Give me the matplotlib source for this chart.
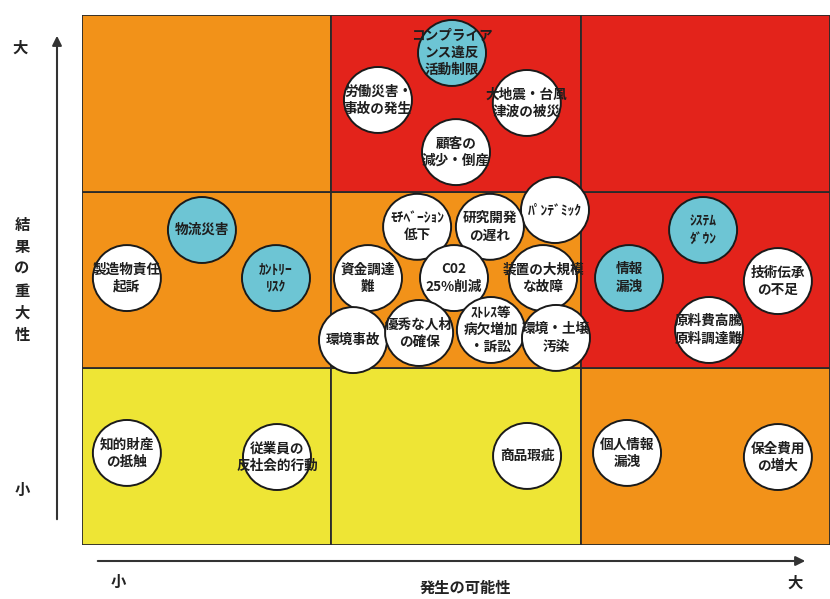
import matplotlib
matplotlib.use("Agg")
import matplotlib.pyplot as plt
from matplotlib.patches import Rectangle, Ellipse

plt.rcParams['font.family'] = ['Noto Sans CJK JP', 'DejaVu Sans']

# Zone colours (row 0 = low severity, col 0 = low likelihood)
ORANGE, RED, YELLOW, BLUE = '#F29219', '#E3231B', '#EEE535', '#6DC5D4'
zone_colors = [
    [YELLOW, YELLOW, ORANGE],
    [ORANGE, ORANGE, RED],
    [ORANGE, RED, RED],
]

# Risk items: label, likelihood (x), severity (y), highlighted
labels = [
    "コンプライア\nンス違反\n活動制限", "労働災害・\n事故の発生", "大地震・台風\n津波の被災", "顧客の\n減少・倒産",
    "ﾊﾟﾝﾃﾞﾐｯｸ", "ﾓﾁﾍﾞｰｼｮﾝ\n低下", "研究開発\nの遅れ", "資金調達\n難",
    "C02\n25%削減", "装置の大規模\nな故障", "環境事故", "優秀な人材\nの確保",
    "ｽﾄﾚｽ等\n病欠増加\n・訴訟", "環境・土壌\n汚染", "物流災害", "製造物責任\n起訴",
    "ｶﾝﾄﾘｰ\nﾘｽｸ", "ｼｽﾃﾑ\nﾀﾞｳﾝ", "情報\n漏洩", "技術伝承\nの不足",
    "原料費高騰\n原料調達難", "知的財産\nの抵触", "従業員の\n反社会的行動", "商品瑕疵",
    "個人情報\n漏洩", "保全費用\nの増大",
]
likelihood = [1.484, 1.187, 1.784, 1.500, 1.897, 1.344, 1.636, 1.147,
              1.492, 1.849, 1.087, 1.352, 1.640, 1.901, 0.481, 0.180,
              0.778, 2.491, 2.194, 2.791, 2.515, 0.180, 0.782, 1.785,
              2.186, 2.791]
severity = [2.785, 2.519, 2.502, 2.224, 1.896, 1.801, 1.801, 1.511,
            1.511, 1.511, 1.160, 1.200, 1.217, 1.172, 1.783, 1.511,
            1.511, 1.783, 1.511, 1.494, 1.217, 0.521, 0.498, 0.504,
            0.521, 0.498]
highlight = [True, False, False, False, False, False, False, False,
             False, False, False, False, False, False, True, False,
             True, True, True, False, False, False, False, False,
             False, False]

W, H = 830, 599
fig = plt.figure(figsize=(W / 100, H / 100), dpi=100)

# overlay axes in pixel coordinates for arrows / axis captions
ov = fig.add_axes([0, 0, 1, 1])
ov.set_xlim(0, W)
ov.set_ylim(H, 0)
ov.axis('off')

# matrix axes
x0, x1, y0, y1 = 82, 830, 15, 545
ax = fig.add_axes([x0 / W, 1 - y1 / H, (x1 - x0) / W, (y1 - y0) / H])
ax.set_xlim(0, 3)
ax.set_ylim(0, 3)
ax.axis('off')

for r in range(3):
    for c in range(3):
        ax.add_patch(Rectangle((c, r), 1, 1, facecolor=zone_colors[r][c],
                               edgecolor='#2a2a2a', lw=1.3, zorder=1))

sx = 3 / (x1 - x0)
sy = 3 / (y1 - y0)
rad = 34
for lab, lx, sv, hl in zip(labels, likelihood, severity, highlight):
    ax.add_patch(Ellipse((lx, sv), 2 * rad * sx, 2 * rad * sy * 0.97,
                         facecolor=BLUE if hl else 'white',
                         edgecolor='#1a1a1a', lw=1.4, zorder=3))
    ax.text(lx, sv, lab, ha='center', va='center', fontsize=9.8,
            fontweight='bold', color='#1e1e1e', linespacing=1.3,
            zorder=4, clip_on=False)

# arrows
ov.annotate('', xy=(57, 33), xytext=(57, 522),
            arrowprops=dict(arrowstyle='-|>', color='#333333', lw=1.5,
                            mutation_scale=14))
ov.annotate('', xy=(808, 561), xytext=(95, 561),
            arrowprops=dict(arrowstyle='-|>', color='#333333', lw=1.5,
                            mutation_scale=14))

lab_kw = dict(fontsize=11, fontweight='bold', color='#222222', ha='center', va='center')
ov.text(20, 48, '大', **lab_kw)
ov.text(22, 490, '小', **lab_kw)
ov.text(22, 280, '結\n果\nの\n重\n大\n性', linespacing=1.45, **lab_kw)
ov.text(118, 582, '小', **lab_kw)
ov.text(465, 588, '発生の可能性', **lab_kw)
ov.text(795, 583, '大', **lab_kw)

fig.savefig('out.png', dpi=100, facecolor='white')
